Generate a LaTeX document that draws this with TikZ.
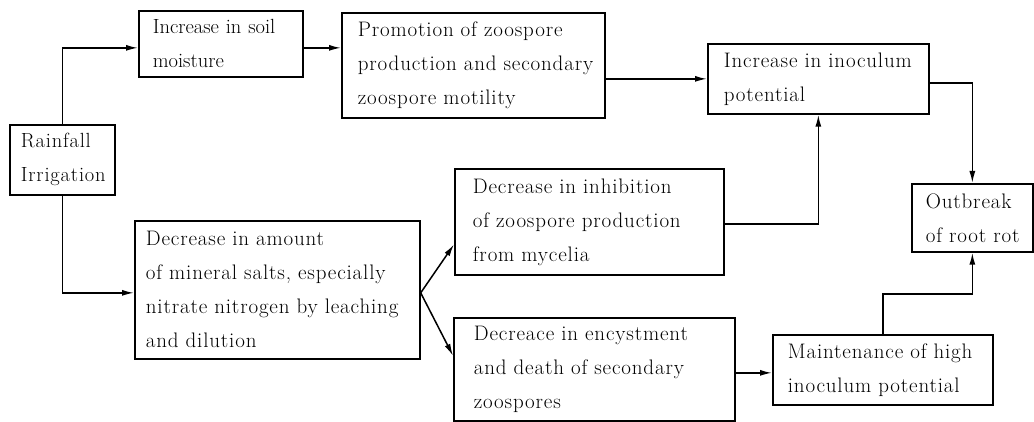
\documentclass[tikz,border=0pt]{standalone}
\usepackage{fontspec}
\setmainfont{Latin Modern Roman}[LetterSpace=4.0,WordSpace=1.6]
\newfontfamily\tightfont{Latin Modern Roman}[LetterSpace=0,WordSpace=1.1]
\usetikzlibrary{arrows.meta,calc}
\newcommand\myln[1]{\mbox{#1}}
\tikzset{
  box/.style={draw, line width=1.7pt, anchor=north west, align=left, inner ysep=0pt,
    font=\fontsize{21}{34}\selectfont},
  arr/.style={line width=1.5pt, -{Latex[length=12pt,width=6pt]}}
}
\begin{document}
\begin{tikzpicture}[x=1pt,y=-1pt]
\useasboundingbox (0,0) rectangle (1034,422);
% box: at (x1,y1), width W, height H, pad p -> text width W-2p
\node[box, inner xsep=11pt, text width=83pt, minimum width=105pt, minimum height=70pt, font=\fontsize{20.5}{34}\selectfont] (rain) at (9,124) {\myln{Rainfall}\\\myln{Irrigation}};
\node[box, inner xsep=14pt, text width=136pt, minimum width=164pt, minimum height=66pt, font=\fontsize{20.5}{34}\tightfont] (soil) at (138,10) {\myln{Increase in soil}\\\myln{moisture}};
\node[box, inner xsep=16pt, text width=231pt, minimum width=263pt, minimum height=105pt] (promo) at (341,12) {\myln{Promotion of zoospore}\\\myln{production and secondary}\\\myln{zoospore motility}};
\node[box, inner xsep=16pt, text width=189pt, minimum width=221pt, minimum height=70pt] (inoc) at (707,43) {\myln{Increase in inoculum}\\\myln{potential}};
\node[box, inner xsep=14pt, text width=93pt, minimum width=121pt, minimum height=68pt] (outb) at (911,183) {\myln{Outbreak}\\\myln{of root rot}};
\node[box, inner xsep=11pt, text width=263pt, minimum width=285pt, minimum height=138pt] (dec) at (134,220) {\myln{Decrease in amount}\\\myln{of mineral salts, especially}\\\myln{nitrate nitrogen by leaching}\\\myln{and dilution}};
\node[box, inner xsep=18pt, text width=233pt, minimum width=269pt, minimum height=106pt] (inhib) at (454,168) {\myln{Decrease in inhibition}\\\myln{of zoospore production}\\\myln{from mycelia}};
\node[box, inner xsep=20pt, text width=241pt, minimum width=281pt, minimum height=103pt] (decr) at (453,317) {\myln{Decreace in encystment}\\\myln{and death of secondary}\\\myln{zoospores}};
\node[box, inner xsep=15pt, text width=190pt, minimum width=220pt, minimum height=70pt] (maint) at (772,334) {\myln{Maintenance of high}\\\myln{inoculum potential}};

\draw[arr] (rain.north) |- ([yshift=-4pt]soil.west);
\draw[arr] ([yshift=-4pt]soil.east) -- ([yshift=-4pt]soil.east -| promo.west);
\draw[arr] (inoc.west -| promo.east) -- (inoc.west);
\draw[arr] ([yshift=-4pt]inoc.east) -| (outb.north);
\draw[arr] (rain.south) |- ([yshift=-3pt]dec.west);
\coordinate (fork) at ([yshift=-3pt]dec.east);
\draw[arr] (fork) -- ($(inhib.south west)!0.29!(inhib.north west)$);
\draw[arr] (fork) -- ($(decr.south west)!0.63!(decr.north west)$);
\draw[arr] ([yshift=-2pt]inhib.east) -| (inoc.south);
\draw[arr] ([yshift=-3pt]maint.west -| decr.east) -- ([yshift=-3pt]maint.west);
\draw[arr] (maint.north) -- ++(0,-40) -| (outb.south);
\end{tikzpicture}
\end{document}
